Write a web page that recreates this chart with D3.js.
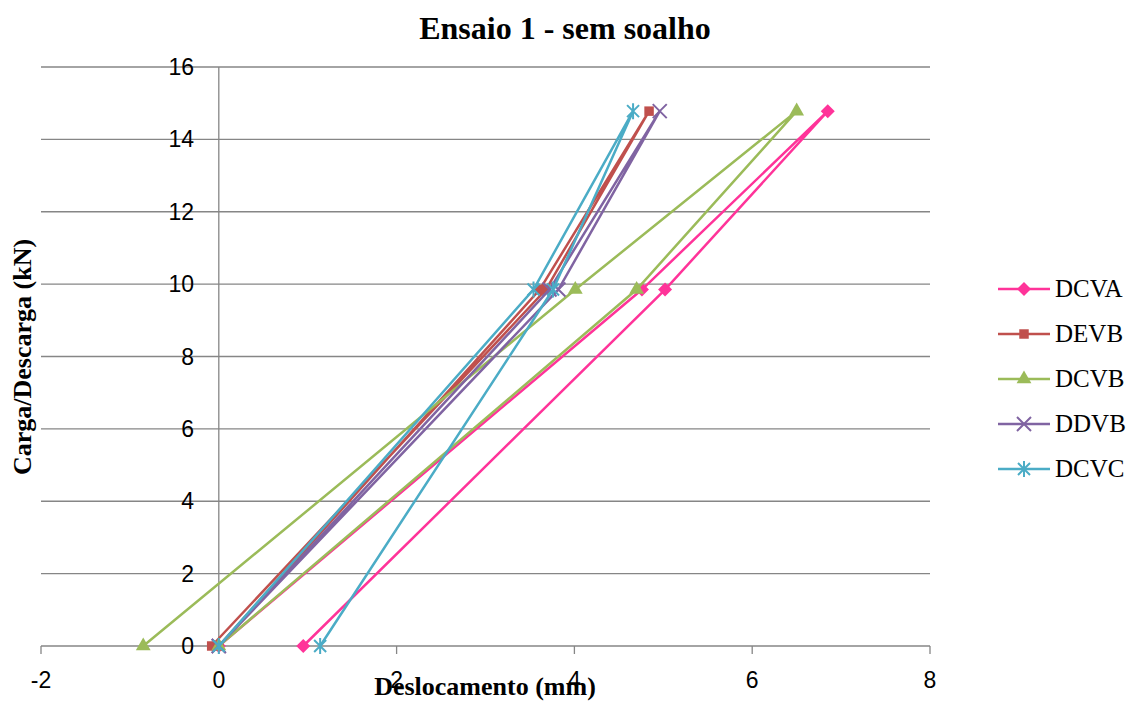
<!DOCTYPE html>
<html>
<head>
<meta charset="utf-8">
<script src="https://cdn.jsdelivr.net/npm/d3@7"></script>
<style>
  body { margin: 0; background: #fff; }
</style>
</head>
<body>
<svg id="chart" width="1131" height="702"></svg>
<script>
// Data (load steps: carga then descarga)
var loads = [0, 9.85, 14.78, 9.85, 0];
var names = ["DCVA", "DEVB", "DCVB", "DDVB", "DCVC"];
var dcva = [0, 4.76, 6.85, 5.02, 0.95];
var devb = [0, 3.61, 4.84, 3.68, -0.08];
var dcvb = [0, 4.70, 6.50, 4.01, -0.85];
var ddvb = [0, 3.72, 4.96, 3.82, 0];
var dcvc = [0, 3.54, 4.66, 3.76, 1.14];
var xTicks = [-2, 0, 2, 4, 6, 8];
var yTicks = [0, 2, 4, 6, 8, 10, 12, 14, 16];

var colors = ["#FF3399", "#C0504D", "#9BBB59", "#8064A2", "#4BACC6"];
var markers = ["diamond", "square", "triangle", "cross", "star"];
var allX = [dcva, devb, dcvb, ddvb, dcvc];

var svg = d3.select("#chart");

var x = d3.scaleLinear().domain([-2, 8]).range([41, 930]);
var y = d3.scaleLinear().domain([0, 16]).range([646, 67]);

// gridlines
svg.append("g")
    .selectAll("line")
    .data(yTicks)
    .enter()
    .append("line")
    .attr("x1", x(-2)).attr("x2", x(8))
    .attr("y1", function (d) { return y(d); })
    .attr("y2", function (d) { return y(d); })
    .attr("stroke", "#868686")
    .attr("stroke-width", 1.3);

// vertical axis at x = 0
svg.append("line")
    .attr("x1", x(0)).attr("x2", x(0))
    .attr("y1", y(16)).attr("y2", y(0))
    .attr("stroke", "#868686")
    .attr("stroke-width", 1.3);

// x ticks
svg.append("g")
    .selectAll("line")
    .data(xTicks)
    .enter()
    .append("line")
    .attr("x1", function (d) { return x(d); })
    .attr("x2", function (d) { return x(d); })
    .attr("y1", y(0)).attr("y2", y(0) + 8)
    .attr("stroke", "#868686")
    .attr("stroke-width", 1.3);

svg.append("g")
    .selectAll("text")
    .data(xTicks)
    .enter()
    .append("text")
    .attr("x", function (d) { return x(d); })
    .attr("y", 688)
    .attr("text-anchor", "middle")
    .style("font-family", "'Liberation Sans', Arial, sans-serif")
    .style("font-size", "23px")
    .text(function (d) { return d; });

svg.append("g")
    .selectAll("text")
    .data(yTicks)
    .enter()
    .append("text")
    .attr("x", 194)
    .attr("y", function (d) { return y(d) + 8; })
    .attr("text-anchor", "end")
    .style("font-family", "'Liberation Sans', Arial, sans-serif")
    .style("font-size", "23px")
    .text(function (d) { return d; });

// marker shapes
function markerPath(type) {
    if (type == "diamond") return "M0,-7L7,0L0,7L-7,0Z";
    if (type == "square") return d3.symbol().type(d3.symbolSquare).size(90)();
    if (type == "triangle") return d3.symbol().type(d3.symbolTriangle).size(95)();
    if (type == "cross") return "M-7,-7L7,7M-7,7L7,-7";
    return "M-6,-6L6,6M-6,6L6,-6M0,-8L0,8";
}

var line = d3.line()
    .x(function (d) { return x(d[0]); })
    .y(function (d) { return y(d[1]); });

allX.forEach(function (xs, i) {
    var pts = xs.map(function (v, j) { return [v, loads[j]]; });
    var g = svg.append("g");
    g.append("path")
        .attr("d", line(pts))
        .attr("fill", "none")
        .attr("stroke", colors[i])
        .attr("stroke-width", 2.5);
    var m = markers[i];
    g.selectAll("path.mk")
        .data(pts)
        .enter()
        .append("path")
        .attr("class", "mk")
        .attr("transform", function (d) { return "translate(" + x(d[0]) + "," + y(d[1]) + ")"; })
        .attr("d", markerPath(m))
        .attr("fill", (m == "cross" || m == "star") ? "none" : colors[i])
        .attr("stroke", colors[i])
        .attr("stroke-width", (m == "cross" || m == "star") ? 2 : 0);
});

// legend
names.forEach(function (n, i) {
    var ly = 289 + i * 45;
    var lg = svg.append("g");
    lg.append("line")
        .attr("x1", 998).attr("x2", 1050)
        .attr("y1", ly).attr("y2", ly)
        .attr("stroke", colors[i])
        .attr("stroke-width", 2.5);
    var m = markers[i];
    lg.append("path")
        .attr("transform", "translate(1024," + ly + ")")
        .attr("d", markerPath(m))
        .attr("fill", (m == "cross" || m == "star") ? "none" : colors[i])
        .attr("stroke", colors[i])
        .attr("stroke-width", (m == "cross" || m == "star") ? 2 : 0);
    lg.append("text")
        .attr("x", 1055)
        .attr("y", ly + 8)
        .style("font-family", "'Liberation Serif', 'Times New Roman', serif")
        .style("font-size", "25px")
        .text(n);
});

// titles
svg.append("text")
    .attr("x", 565).attr("y", 39)
    .attr("text-anchor", "middle")
    .style("font-family", "'Liberation Serif', 'Times New Roman', serif")
    .style("font-weight", "bold")
    .style("font-size", "32px")
    .text("Ensaio 1 - sem soalho");

svg.append("text")
    .attr("x", 485).attr("y", 695)
    .attr("text-anchor", "middle")
    .style("font-family", "'Liberation Serif', 'Times New Roman', serif")
    .style("font-weight", "bold")
    .style("font-size", "26px")
    .text("Deslocamento (mm)");

svg.append("text")
    .attr("transform", "translate(31,357) rotate(-90)")
    .attr("text-anchor", "middle")
    .style("font-family", "'Liberation Serif', 'Times New Roman', serif")
    .style("font-weight", "bold")
    .style("font-size", "26px")
    .text("Carga/Descarga (kN)");
</script>
</body>
</html>
